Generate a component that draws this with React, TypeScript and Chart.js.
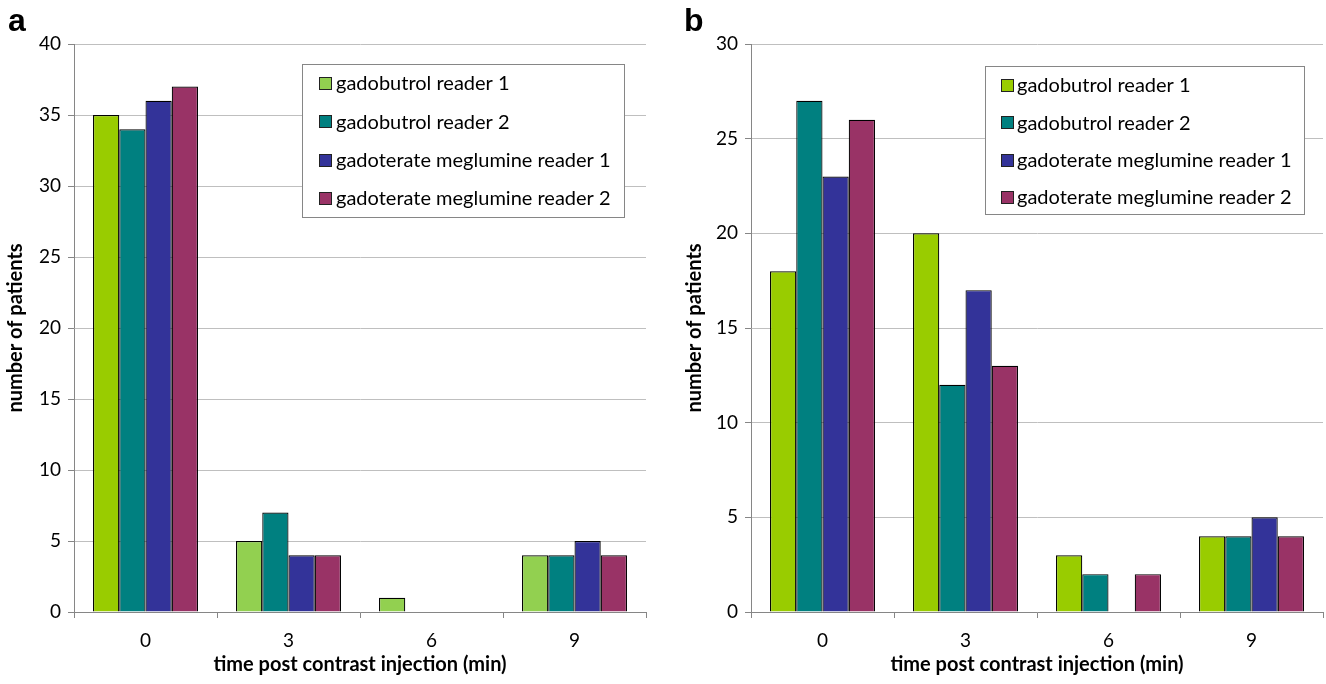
import React, { useEffect, useRef } from "react";
import { Chart, registerables } from "chart.js";

Chart.register(...registerables);

const categories = ["0", "3", "6", "9"];
const seriesNames = [
  "gadobutrol reader 1",
  "gadobutrol reader 2",
  "gadoterate meglumine reader 1",
  "gadoterate meglumine reader 2",
];

// panel a
const aGadobutrolR1 = [35, 5, 1, 4];
const aGadobutrolR2 = [34, 7, 0, 4];
const aGadoterateR1 = [36, 4, 0, 5];
const aGadoterateR2 = [37, 4, 0, 4];

// panel b
const bGadobutrolR1 = [18, 20, 3, 4];
const bGadobutrolR2 = [27, 12, 2, 4];
const bGadoterateR1 = [23, 17, 0, 5];
const bGadoterateR2 = [26, 13, 2, 4];

const aMax = 40;
const bMax = 30;
const yStep = 5;

const GREEN_DARK = "#99CC00";
const GREEN_LIGHT = "#92D050";
const TEAL = "#008080";
const BLUE = "#333399";
const PLUM = "#993366";

const FONT = "Lato, 'Open Sans', sans-serif";

const legendPlugin = {
  id: "boxLegend",
  afterDraw(chart: any, _args: any, opts: any) {
    const { ctx } = chart;
    const { x, y, w, h, rowH, firstRow, swatchX, textX, colors } = opts;
    ctx.save();
    ctx.fillStyle = "#ffffff";
    ctx.fillRect(x, y, w, h);
    ctx.strokeStyle = "#868686";
    ctx.lineWidth = 1;
    ctx.strokeRect(x + 0.5, y + 0.5, w, h);
    ctx.font = `20px ${FONT}`;
    ctx.textBaseline = "middle";
    ctx.textAlign = "left";
    chart.data.datasets.forEach((ds: any, i: number) => {
      const cy = y + firstRow + i * rowH;
      ctx.fillStyle = colors[i];
      ctx.fillRect(swatchX, Math.round(cy - 6), 12, 12);
      ctx.strokeStyle = "#222222";
      ctx.strokeRect(swatchX + 0.5, Math.round(cy - 6) + 0.5, 12, 12);
      ctx.fillStyle = "#000000";
      ctx.fillText(ds.label, textX, cy + 1);
    });
    ctx.restore();
  },
};

function makeConfig(
  series: number[][],
  bg: (string | string[])[],
  legendColors: string[],
  yMax: number,
  yAxisWidth: number,
  yTitlePad: number,
  padRight: number,
  legend: any
) {
  return {
    type: "bar" as const,
    data: {
      labels: categories,
      datasets: series.map((d, i) => ({
        label: seriesNames[i],
        data: d,
        backgroundColor: bg[i],
        borderColor: "#000000",
        borderWidth: (c: any) => (c.raw === 0 ? 0 : 1.2),
        borderSkipped: "bottom",
        categoryPercentage: 0.734,
        barPercentage: 1,
      })),
    },
    options: {
      animation: false,
      responsive: false,
      devicePixelRatio: 1,
      layout: { padding: { top: 44, right: padRight, bottom: 0, left: 0 } },
      plugins: {
        legend: { display: false },
        tooltip: { enabled: false },
        boxLegend: { ...legend, colors: legendColors },
      },
      scales: {
        x: {
          offset: true,
          grid: {
            offset: true,
            drawOnChartArea: false,
            drawTicks: true,
            tickLength: 6,
            color: "#868686",
          },
          border: { color: "#868686", width: 1 },
          ticks: { color: "#000", font: { family: FONT, size: 19 }, padding: 11 },
          title: {
            display: true,
            text: "time post contrast injection (min)",
            color: "#000",
            font: { family: FONT, size: 20, weight: "bold" },
            padding: { top: 0, bottom: 7 },
          },
          afterFit(scale: any) {
            scale.height = 72;
          },
        },
        y: {
          min: 0,
          max: yMax,
          ticks: {
            stepSize: yStep,
            color: "#000",
            font: { family: FONT, size: 19 },
            padding: 7,
          },
          grid: {
            color: "#BFBFBF",
            tickColor: "#868686",
            tickLength: 6,
          },
          border: { color: "#868686", width: 1 },
          title: {
            display: true,
            text: "number of patients",
            color: "#000",
            font: { family: FONT, size: 20, weight: "bold" },
            padding: { top: yTitlePad, bottom: 0 },
          },
          afterFit(scale: any) {
            scale.width = yAxisWidth;
          },
        },
      },
    },
    plugins: [legendPlugin],
  };
}

function Panel({ config, left }: { config: any; left: number }) {
  const ref = useRef<HTMLCanvasElement>(null);
  useEffect(() => {
    const chart = new Chart(ref.current as HTMLCanvasElement, config);
    return () => chart.destroy();
  }, []);
  return (
    <canvas
      ref={ref}
      width={663}
      height={684}
      style={{ position: "absolute", left, top: 0, width: 663, height: 684 }}
    />
  );
}

export default function App() {
  const cfgA = makeConfig(
    [aGadobutrolR1, aGadobutrolR2, aGadoterateR1, aGadoterateR2],
    [[GREEN_DARK, GREEN_LIGHT, GREEN_LIGHT, GREEN_LIGHT], TEAL, BLUE, PLUM],
    [GREEN_LIGHT, TEAL, BLUE, PLUM],
    aMax,
    74,
    4,
    17,
    { x: 302, y: 64, w: 322, h: 153, rowH: 38.3, firstRow: 19, swatchX: 319, textX: 336 }
  );
  const cfgB = makeConfig(
    [bGadobutrolR1, bGadobutrolR2, bGadoterateR1, bGadoterateR2],
    [GREEN_DARK, TEAL, BLUE, PLUM],
    [GREEN_DARK, TEAL, BLUE, PLUM],
    bMax,
    88,
    20,
    3,
    { x: 322, y: 66, w: 319, h: 148, rowH: 37.3, firstRow: 19, swatchX: 338, textX: 354 }
  );
  const labelStyle: React.CSSProperties = {
    position: "absolute",
    top: 4,
    fontFamily: "'Liberation Sans', Arial, sans-serif",
    fontWeight: "bold",
    fontSize: 32,
    lineHeight: "32px",
    color: "#000",
  };
  return (
    <div
      style={{
        position: "absolute",
        left: 0,
        top: 0,
        width: 1326,
        height: 684,
        background: "#fff",
        overflow: "hidden",
      }}
    >
      <Panel config={cfgA} left={0} />
      <Panel config={cfgB} left={663} />
      <div style={{ ...labelStyle, left: 8 }}>a</div>
      <div style={{ ...labelStyle, left: 684 }}>b</div>
    </div>
  );
}
